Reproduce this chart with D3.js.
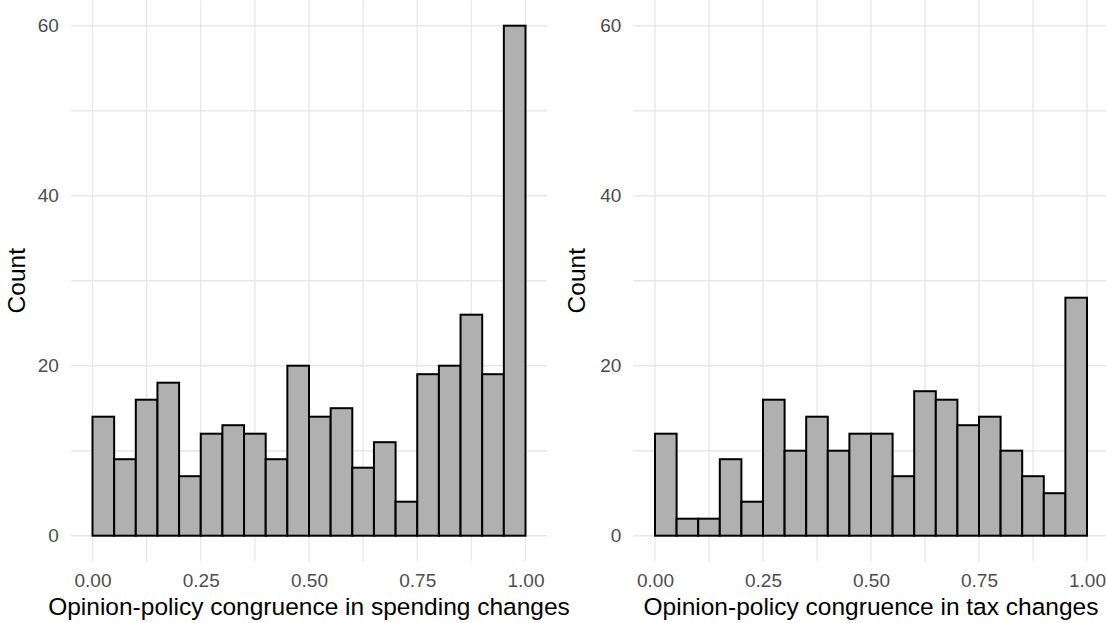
<!DOCTYPE html>
<html>
<head>
<meta charset="utf-8">
<script src="https://cdn.jsdelivr.net/npm/d3@7"></script>
<style>
  body { margin: 0; background: #fff; }
  text { font-family: "Liberation Sans", Arial, sans-serif; }
</style>
</head>
<body>
<div id="chart"></div>
<script>
// histogram counts, 20 bins of width 0.05 from 0 to 1
var binEdges = d3.range(0, 20).map(function(i) { return i * 0.05; });
var spendingCounts = [14, 9, 16, 18, 7, 12, 13, 12, 9, 20, 14, 15, 8, 11, 4, 19, 20, 26, 19, 60];
var taxCounts = [12, 2, 2, 9, 4, 16, 10, 14, 10, 12, 12, 7, 17, 16, 13, 14, 10, 7, 5, 28];
var xTicks = [0, 0.25, 0.5, 0.75, 1];
var xMinor = [0.125, 0.375, 0.625, 0.875];
var yTicks = [0, 20, 40, 60];
var yMinor = [10, 30, 50];
var xTitles = ['Opinion-policy congruence in spending changes', 'Opinion-policy congruence in tax changes'];
var yTitle = 'Count';

var width = 1106, height = 623;
var svg = d3.select('#chart').append('svg')
  .attr('width', width)
  .attr('height', height);

var y = d3.scaleLinear().domain([0, 60]).range([535.7, 25.7]);
var panelTop = y(63), panelBottom = y(-3);

var panels = [
  {counts: spendingCounts, x0: 92.5, x1: 525.5, title: xTitles[0], ytitleX: 25},
  {counts: taxCounts, x0: 655, x1: 1087, title: xTitles[1], ytitleX: 585}
];

panels.forEach(function(p) {
  var x = d3.scaleLinear().domain([0, 1]).range([p.x0, p.x1]);
  var left = x(-0.05), right = x(1.05);
  var g = svg.append('g');

  // gridlines
  g.selectAll('.hgrid')
    .data(yTicks.concat(yMinor))
    .enter().append('line')
    .attr('x1', left).attr('x2', right)
    .attr('y1', function(d) { return y(d); })
    .attr('y2', function(d) { return y(d); })
    .attr('stroke', '#e8e8e8')
    .attr('stroke-width', 1.4);
  g.selectAll('.vgrid')
    .data(xTicks.concat(xMinor))
    .enter().append('line')
    .attr('x1', function(d) { return x(d); })
    .attr('x2', function(d) { return x(d); })
    .attr('y1', panelTop).attr('y2', panelBottom)
    .attr('stroke', '#e8e8e8')
    .attr('stroke-width', 1.4);

  // bars
  g.selectAll('.bar')
    .data(p.counts)
    .enter().append('rect')
    .attr('x', function(d, i) { return x(binEdges[i]); })
    .attr('width', x(0.05) - x(0))
    .attr('y', function(d) { return y(d); })
    .attr('height', function(d) { return y(0) - y(d); })
    .attr('fill', '#b0b0b0')
    .attr('stroke', '#000')
    .attr('stroke-width', 2);

  // axes (labels only)
  var ax = g.append('g')
    .attr('transform', 'translate(0,' + panelBottom + ')')
    .call(d3.axisBottom(x).tickValues(xTicks).tickSize(0).tickPadding(12.5)
      .tickFormat(d3.format('.2f')));
  var ay = g.append('g')
    .attr('transform', 'translate(' + left + ',0)')
    .call(d3.axisLeft(y).tickValues(yTicks).tickSize(0).tickPadding(12));
  [ax, ay].forEach(function(a) {
    a.select('.domain').remove();
    a.selectAll('text')
      .attr('fill', '#4d4d4d')
      .style('font-size', '19px')
      .style('font-family', '"Liberation Sans", Arial, sans-serif');
  });

  g.append('text')
    .attr('x', (left + right) / 2)
    .attr('y', 615)
    .attr('text-anchor', 'middle')
    .style('font-size', '24.5px')
    .attr('fill', '#000')
    .text(p.title);

  g.append('text')
    .attr('transform', 'translate(' + p.ytitleX + ',' + ((panelTop + panelBottom) / 2) + ') rotate(-90)')
    .attr('text-anchor', 'middle')
    .style('font-size', '24.5px')
    .attr('fill', '#000')
    .text(yTitle);
});
</script>
</body>
</html>
